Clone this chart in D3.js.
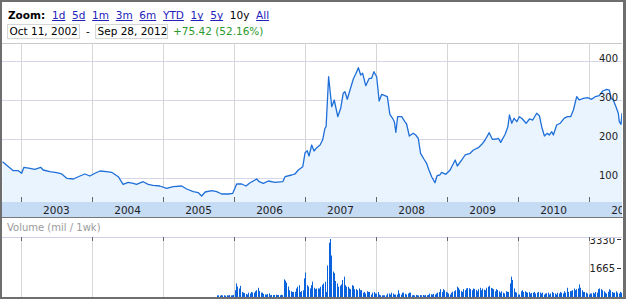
<!DOCTYPE html>
<html>
<head>
<meta charset="utf-8">
<script src="https://cdn.jsdelivr.net/npm/d3@7"></script>
<style>
    body { margin: 0; background: #fff; }
    svg { display: block; font-family: "DejaVu Sans", Verdana, sans-serif; }
</style>
</head>
<body>
<svg id="chart" width="626" height="299"></svg>
<script>
// ---- data ----
var zoomLinks = ["1d", "5d", "1m", "3m", "6m", "YTD", "1y", "5y", "10y", "All"];
var activeZoom = "10y";
var rangeStart = "Oct 11, 2002",
    rangeEnd = "Sep 28, 2012",
    changeText = "+75.42 (52.16%)";

var yearLabels = ["2003", "2004", "2005", "2006", "2007", "2008", "2009", "2010", "2011"];
var priceTicks = [100, 200, 300, 400];
var volumeTicks = [1665, 3330];

// price, sampled along the line (decimal years)
var priceYears = [
    2002.742, 2002.845, 2002.892, 2002.962, 2003.010, 2003.042, 2003.127, 2003.197, 2003.277, 2003.314,
    2003.408, 2003.503, 2003.573, 2003.644, 2003.737, 2003.831, 2003.901, 2003.972, 2004.042, 2004.113,
    2004.207, 2004.277, 2004.370, 2004.441, 2004.511, 2004.582, 2004.630, 2004.723, 2004.793, 2004.863,
    2004.958,
    2005.052, 2005.145, 2005.263, 2005.334, 2005.427, 2005.497, 2005.545, 2005.592, 2005.686, 2005.756,
    2005.827, 2005.920, 2005.982, 2006.038, 2006.108, 2006.169, 2006.225, 2006.320, 2006.356, 2006.413,
    2006.483, 2006.577, 2006.686, 2006.718, 2006.813, 2006.859, 2006.906, 2006.968,
    2007.000, 2007.032, 2007.056, 2007.094, 2007.127, 2007.165, 2007.211, 2007.249, 2007.282, 2007.296,
    2007.334, 2007.376, 2007.413, 2007.461, 2007.503, 2007.539, 2007.563, 2007.596, 2007.634, 2007.680,
    2007.718, 2007.751, 2007.785, 2007.813, 2007.855, 2007.906, 2007.939, 2007.972,
    2008.010, 2008.046, 2008.080, 2008.159, 2008.197, 2008.235, 2008.258, 2008.282, 2008.306, 2008.362,
    2008.408, 2008.432, 2008.469, 2008.525, 2008.559, 2008.596, 2008.630, 2008.676, 2008.714, 2008.746,
    2008.785, 2008.831, 2008.863, 2008.901, 2008.925, 2008.986, 2009.042,
    2009.113, 2009.145, 2009.207, 2009.254, 2009.324, 2009.370, 2009.441, 2009.489, 2009.535, 2009.592,
    2009.638, 2009.700, 2009.723, 2009.756, 2009.817, 2009.855, 2009.877, 2009.911, 2009.944, 2009.982,
    2010.018, 2010.052, 2010.113, 2010.159, 2010.207, 2010.263, 2010.300, 2010.334, 2010.370, 2010.413,
    2010.441, 2010.475, 2010.497, 2010.545, 2010.592, 2010.648, 2010.694, 2010.742, 2010.779, 2010.827,
    2010.863, 2010.920, 2010.976,
    2011.038, 2011.085, 2011.145, 2011.193, 2011.249, 2011.286, 2011.310, 2011.342, 2011.380, 2011.413,
    2011.427, 2011.451, 2011.465, 2011.483
];
var priceValues = [
    141.8, 125.6, 118.7, 118.7, 112.1, 127.4, 124.9, 122.3, 127.4, 120.5,
    116.2, 113.6, 110.3, 99.2, 97.4, 105.1, 110.3, 105.1, 112.1, 117.9,
    116.2, 114.6, 103.3, 83.8, 89.0, 86.4, 83.8, 90.5, 83.8, 81.3,
    79.5,
    73.6, 77.7, 79.5, 71.8, 64.9, 62.3, 53.8, 64.1, 67.4, 64.9,
    59.0, 59.0, 60.8, 84.6, 84.6, 79.5, 87.9, 97.4, 90.5, 86.4,
    92.3, 89.0, 90.5, 103.3, 107.7, 110.3, 120.5, 129.0,
    164.9, 170.0, 156.4, 184.6, 169.2, 177.7, 184.6, 197.4, 227.4, 231.5,
    359.7, 282.8, 300.0, 257.2, 278.7, 317.2, 321.3, 301.8, 325.6, 353.8,
    368.5, 382.8, 364.1, 368.5, 336.7, 355.6, 355.6, 372.6,
    359.7, 297.4, 314.6, 308.5, 263.3, 253.1, 244.4, 217.2, 257.2, 257.2,
    244.4, 238.5, 207.7, 214.6, 210.3, 201.8, 163.3, 148.7, 137.7, 120.5,
    103.3, 87.9, 105.9, 107.7, 114.6, 109.5, 120.5,
    146.2, 130.8, 146.2, 159.0, 163.3, 171.8, 177.7, 186.4, 197.4, 216.2,
    199.2, 200.0, 201.8, 191.5, 212.1, 231.5, 261.5, 240.3, 253.1, 244.4,
    257.2, 253.1, 240.3, 251.3, 248.7, 265.9, 259.7, 231.5, 207.7, 214.6,
    210.3, 218.7, 210.3, 235.9, 240.3, 253.1, 257.2, 257.2, 274.4, 308.5,
    300.0, 304.4, 305.9,
    301.8, 308.5, 311.0, 323.1, 327.4, 325.6, 304.4, 300.0, 282.8, 265.9,
    244.4, 237.7, 265.9, 223.1
];

// weekly volume (mil), first week below
var volumeStart = "2005-10-05";
var volumeValues = [
    90, 100, 80, 110, 90, 100, 80, 100, 90, 110, 90, 100, 120,
    390, 780, 600, 490, 640, 290, 250, 220, 180, 140, 250, 200, 290, 260, 250, 330, 390, 530, 350, 250,
    250, 180, 140, 140, 170, 210, 100, 120, 110, 120, 130, 110, 120, 100, 130, 110,
    1010, 940, 820, 600, 390, 330, 290, 290, 300, 490, 590, 680, 290, 340, 390, 1070, 1400, 680, 600, 490,
    680, 880, 530, 450, 490, 490, 490, 590, 700, 780, 880, 290, 1810, 3120, 3330, 2380, 1460, 1370, 920,
    780, 590, 650, 720, 980, 1170, 680, 590, 590, 490, 450, 680,
    640, 450, 450, 390, 490, 390, 390, 250, 290, 200, 330, 290, 290, 140, 250, 290, 200, 200, 290, 140,
    100, 100, 100, 100, 100, 200, 200, 140, 250, 200, 140, 140, 140, 390, 200, 140, 250, 250, 180, 140,
    200, 250, 250,
    100, 110, 90, 120, 100, 90, 110, 100, 120, 90, 110, 100, 120,
    200, 160, 140, 180, 140, 200, 250, 290, 450, 290, 450, 390, 300, 250, 200, 140, 250, 300, 330, 390,
    590, 530, 420, 340, 290, 450, 390, 490, 520, 500, 450, 390, 490, 460, 400, 330, 450, 530, 390, 490,
    420, 390, 530, 590, 640, 520, 490, 450, 330, 450, 400, 330, 250, 330, 250, 200, 330, 300, 290, 780,
    1170, 980, 490, 290, 250, 140, 140, 330, 390, 290, 330, 280, 250, 290, 200, 230, 250, 290, 200, 250,
    290, 260, 200, 250, 140, 200, 220, 250, 140, 200, 290, 230, 200, 140, 250, 200, 290, 240, 200, 330,
    250, 530, 290, 330, 350, 390, 490, 390, 450, 490, 720, 530, 390, 290, 290, 250, 200, 140, 200, 200,
    250, 200, 290, 250, 450, 490, 450, 390, 330, 250, 200, 300, 450, 390, 290, 250, 250, 330, 250, 200,
    290, 250, 200
];

// ---- layout ----
var W = 626, H = 299;
var plot = {left: 2, right: 622, top: 43, bottom: 202};
var band = {top: 202, bottom: 217};
var vol = {top: 237, bottom: 297};

function yearToDate(y) {
    var yr = Math.floor(y);
    return new Date(yr, 0, 1 + (y - yr) * 365);
}

var svg = d3.select("#chart");

var x = d3.scaleTime()
    .domain([yearToDate(2002.732), yearToDate(2011.465)])
    .range([plot.left, plot.right]);

var y = d3.scaleLinear()
    .domain([0, 400])
    .range([217, 61]);

var yVol = d3.scaleLinear()
    .domain([0, 3330])
    .range([vol.bottom, 239]);

var priceData = priceYears.map(function (d, i) {
    return {date: yearToDate(d), value: priceValues[i]};
});

var volData = volumeValues.map(function (v, i) {
    return {date: d3.timeWeek.offset(new Date(volumeStart), i), value: v};
});

var yearStarts = yearLabels.map(function (d) { return new Date(+d, 0, 1); });

var defs = svg.append("defs");
defs.append("clipPath").attr("id", "clip-plot")
    .append("rect")
    .attr("x", plot.left).attr("y", plot.top)
    .attr("width", plot.right - plot.left).attr("height", plot.bottom - plot.top);
defs.append("clipPath").attr("id", "clip-band")
    .append("rect")
    .attr("x", plot.left).attr("y", band.top)
    .attr("width", plot.right - plot.left).attr("height", band.bottom - band.top);
defs.append("clipPath").attr("id", "clip-vol")
    .append("rect")
    .attr("x", plot.left).attr("y", vol.top + 0.5)
    .attr("width", plot.right - plot.left).attr("height", vol.bottom - vol.top);

/*   Header   */
var header = svg.append("g").attr("class", "header");
header.append("text")
    .attr("x", 8).attr("y", 18.5)
    .attr("font-size", "10.5px").attr("font-weight", "bold")
    .attr("fill", "#000")
    .text("Zoom:");

var lx = 52;
zoomLinks.forEach(function (z) {
    var isActive = z == activeZoom;
    var t = header.append("text")
        .attr("x", lx).attr("y", 18.5)
        .attr("font-size", "10.5px")
        .attr("fill", isActive ? "#000" : "#2222bb")
        .text(z);
    var w = t.node().getComputedTextLength();
    if (!isActive) {
        header.append("line")
            .attr("x1", lx).attr("x2", lx + w)
            .attr("y1", 20.5).attr("y2", 20.5)
            .attr("stroke", "#2222bb").attr("stroke-width", 1);
    }
    lx += w + 6.7;
});

header.append("rect")
    .attr("x", 7.5).attr("y", 24.5).attr("width", 72).attr("height", 14)
    .attr("fill", "none").attr("stroke", "#d6d6d6");
header.append("text")
    .attr("x", 9.5).attr("y", 35)
    .attr("font-size", "10.5px").attr("fill", "#000")
    .text(rangeStart);
header.append("text")
    .attr("x", 86).attr("y", 35)
    .attr("font-size", "10.5px").attr("fill", "#000")
    .text("-");
header.append("rect")
    .attr("x", 95.5).attr("y", 24.5).attr("width", 72).attr("height", 14)
    .attr("fill", "none").attr("stroke", "#d6d6d6");
header.append("text")
    .attr("x", 97.5).attr("y", 35)
    .attr("font-size", "10.5px").attr("fill", "#000")
    .text(rangeEnd);
header.append("text")
    .attr("x", 173).attr("y", 35)
    .attr("font-size", "10.5px").attr("fill", "#2c992c")
    .text(changeText);

/*   Price panel   */
svg.append("line")
    .attr("x1", plot.left).attr("x2", plot.right)
    .attr("y1", plot.top + 0.5).attr("y2", plot.top + 0.5)
    .attr("stroke", "#c9c9c9");

svg.append("g").selectAll("line")
    .data(priceTicks)
    .enter().append("line")
    .attr("x1", plot.left).attr("x2", plot.right)
    .attr("y1", function (d) { return Math.round(y(d)) + 0.5; })
    .attr("y2", function (d) { return Math.round(y(d)) + 0.5; })
    .attr("stroke", "#d6d6ea");

svg.append("g").selectAll("line")
    .data(yearStarts)
    .enter().append("line")
    .attr("x1", function (d) { return Math.round(x(d)) + 0.5; })
    .attr("x2", function (d) { return Math.round(x(d)) + 0.5; })
    .attr("y1", plot.top).attr("y2", plot.bottom)
    .attr("stroke", "#d4d7d4");

var pg = svg.append("g").attr("clip-path", "url(#clip-plot)");
pg.append("path")
    .datum(priceData)
    .attr("fill", "#eaf4fe")
    .attr("d", d3.area()
        .x(function (d) { return x(d.date); })
        .y0(plot.bottom)
        .y1(function (d) { return y(d.value); }));
pg.append("path")
    .datum(priceData)
    .attr("fill", "none")
    .attr("stroke", "#1f6fd9")
    .attr("stroke-width", 1.3)
    .attr("stroke-linejoin", "round")
    .attr("d", d3.line()
        .x(function (d) { return x(d.date); })
        .y(function (d) { return y(d.value); }));

// small ticks above the date band
svg.append("g").selectAll("line")
    .data(yearStarts)
    .enter().append("line")
    .attr("x1", function (d) { return Math.round(x(d)) + 0.5; })
    .attr("x2", function (d) { return Math.round(x(d)) + 0.5; })
    .attr("y1", plot.bottom - 5).attr("y2", plot.bottom)
    .attr("stroke", "#666");

// price labels on the right
svg.append("g").selectAll("text")
    .data(priceTicks)
    .enter().append("text")
    .attr("x", 618)
    .attr("y", function (d) { return Math.round(y(d)) + 1; })
    .attr("text-anchor", "end")
    .attr("font-size", "10px")
    .attr("fill", "#222")
    .text(function (d) { return d; });

/*   Date band   */
var bg = svg.append("g").attr("clip-path", "url(#clip-band)");
bg.append("rect")
    .attr("x", plot.left).attr("y", band.top)
    .attr("width", plot.right - plot.left).attr("height", band.bottom - band.top)
    .attr("fill", "#c6dbf4");
bg.selectAll("text")
    .data(yearLabels)
    .enter().append("text")
    .attr("x", function (d) { return x(new Date(+d, 6, 2)); })
    .attr("y", 213.5)
    .attr("text-anchor", "middle")
    .attr("font-size", "10.5px")
    .attr("fill", "#222")
    .text(function (d) { return d; });

svg.append("line")
    .attr("x1", 0).attr("x2", W)
    .attr("y1", band.bottom + 0.5).attr("y2", band.bottom + 0.5)
    .attr("stroke", "#777");

/*   Volume panel   */
svg.append("text")
    .attr("x", 7).attr("y", 230.5)
    .attr("font-size", "10px")
    .attr("fill", "#9a9a9a")
    .text("Volume (mil / 1wk)");

svg.append("g").selectAll("line")
    .data(yearStarts)
    .enter().append("line")
    .attr("x1", function (d) { return Math.round(x(d)) + 0.5; })
    .attr("x2", function (d) { return Math.round(x(d)) + 0.5; })
    .attr("y1", vol.top).attr("y2", vol.bottom)
    .attr("stroke", "#d4d7d4");

var vg = svg.append("g").attr("clip-path", "url(#clip-vol)");
vg.selectAll("rect")
    .data(volData)
    .enter().append("rect")
    .attr("x", function (d) { return Math.round(x(d.date)); })
    .attr("y", function (d) { return yVol(d.value); })
    .attr("width", 1)
    .attr("height", function (d) { return vol.bottom - yVol(d.value); })
    .attr("fill", "#0a62dc");

vg.selectAll("text")
    .data(volumeTicks)
    .enter().append("text")
    .attr("x", 615)
    .attr("y", function (d) { return Math.max(yVol(d) + 3.5, 244); })
    .attr("text-anchor", "end")
    .attr("font-size", "10px")
    .attr("fill", "#222")
    .text(function (d) { return d; });
vg.selectAll("line")
    .data(volumeTicks)
    .enter().append("line")
    .attr("x1", 617).attr("x2", 621)
    .attr("y1", function (d) { return Math.round(yVol(d)) + 0.5; })
    .attr("y2", function (d) { return Math.round(yVol(d)) + 0.5; })
    .attr("stroke", "#333");

svg.append("line")
    .attr("x1", plot.left).attr("x2", plot.right)
    .attr("y1", vol.top + 0.5).attr("y2", vol.top + 0.5)
    .attr("stroke", "#d0d0e8");

svg.append("g").selectAll("line")
    .data(yearStarts)
    .enter().append("line")
    .attr("x1", function (d) { return Math.round(x(d)) + 0.5; })
    .attr("x2", function (d) { return Math.round(x(d)) + 0.5; })
    .attr("y1", vol.top).attr("y2", vol.top + 4)
    .attr("stroke", "#666");

/*   Outer frame   */
var frame = svg.append("g").attr("fill", "#6e6e6e");
frame.append("rect").attr("x", 0).attr("y", 0).attr("width", W).attr("height", 2);
frame.append("rect").attr("x", 0).attr("y", 0).attr("width", 2).attr("height", H);
frame.append("rect").attr("x", 623).attr("y", 0).attr("width", 3).attr("height", H);
frame.append("rect").attr("x", 0).attr("y", 297).attr("width", W).attr("height", 2);
</script>
</body>
</html>
